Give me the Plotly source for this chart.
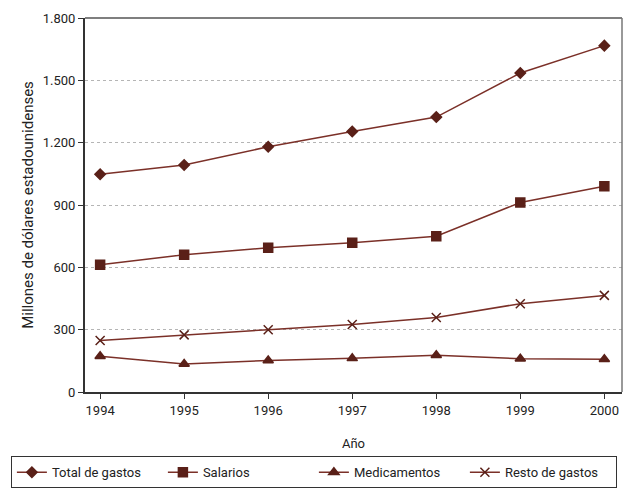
import plotly.graph_objects as go

years = [1994, 1995, 1996, 1997, 1998, 1999, 2000]
total_gastos = [1048, 1093, 1180, 1254, 1323, 1535, 1667]
salarios = [612, 660, 694, 718, 750, 912, 990]
medicamentos = [172, 135, 152, 162, 177, 160, 158]
resto_gastos = [248, 275, 300, 325, 359, 425, 465]

line_col = "#7b3028"
mark_col = "#5a2018"
font_fam = "Roboto, Liberation Sans, Arial"

series = [
    ("Total de gastos", total_gastos, "diamond", 8),
    ("Salarios", salarios, "square", 9),
    ("Medicamentos", medicamentos, "triangle-up", 9),
    ("Resto de gastos", resto_gastos, "x-thin", 9),
]

fig = go.Figure()
for name, vals, sym, sz in series:
    fig.add_trace(go.Scatter(
        x=years, y=vals, name=name, mode="lines+markers",
        line=dict(color=line_col, width=1.5),
        marker=dict(symbol=sym, size=sz, color=mark_col,
                    line=dict(color=mark_col, width=1.5)),
    ))

# page body has an 8px margin, so the figure is a bit smaller than the window
fig.update_layout(
    width=632, height=484,
    margin=dict(l=77, r=18, t=10, b=100, autoexpand=False),
    plot_bgcolor="white", paper_bgcolor="white",
    font=dict(family=font_fam, size=13, color="#222"),
    separators=",.",
    xaxis=dict(
        range=[1993.82, 2000.21], tickmode="array", tickvals=years,
        ticks="outside", ticklen=5, tickcolor="#333",
        showgrid=False, showline=True, linecolor="#333", linewidth=2,
        mirror=False, zeroline=False, automargin=False,
        title=dict(text="Año", standoff=22, font=dict(size=13)),
    ),
    yaxis=dict(
        range=[0, 1800], tickvals=[0, 300, 600, 900, 1200, 1500, 1800],
        tickformat=",d", ticks="outside", ticklen=5, tickcolor="#333",
        showgrid=True, gridcolor="#b5b5b5", griddash="dot", gridwidth=1,
        showline=True, linecolor="#333", linewidth=2, zeroline=False,
        automargin=False,
        title=dict(text="Millones de dólares estadounidenses", standoff=5,
                   font=dict(size=15)),
    ),
    legend=dict(
        orientation="h", x=-0.138, xanchor="left", y=-0.172, yanchor="top",
        bordercolor="#333", borderwidth=1, font=dict(size=13),
        entrywidth=106, traceorder="normal",
    ),
    showlegend=True,
)
# light frame on top and right
fig.add_shape(type="line", xref="paper", yref="paper", x0=0, x1=1, y0=1, y1=1,
              line=dict(color="#555", width=1.5))
fig.add_shape(type="line", xref="paper", yref="paper", x0=1, x1=1, y0=0, y1=1,
              line=dict(color="#777", width=1.5))

fig.write_html("out.html")
